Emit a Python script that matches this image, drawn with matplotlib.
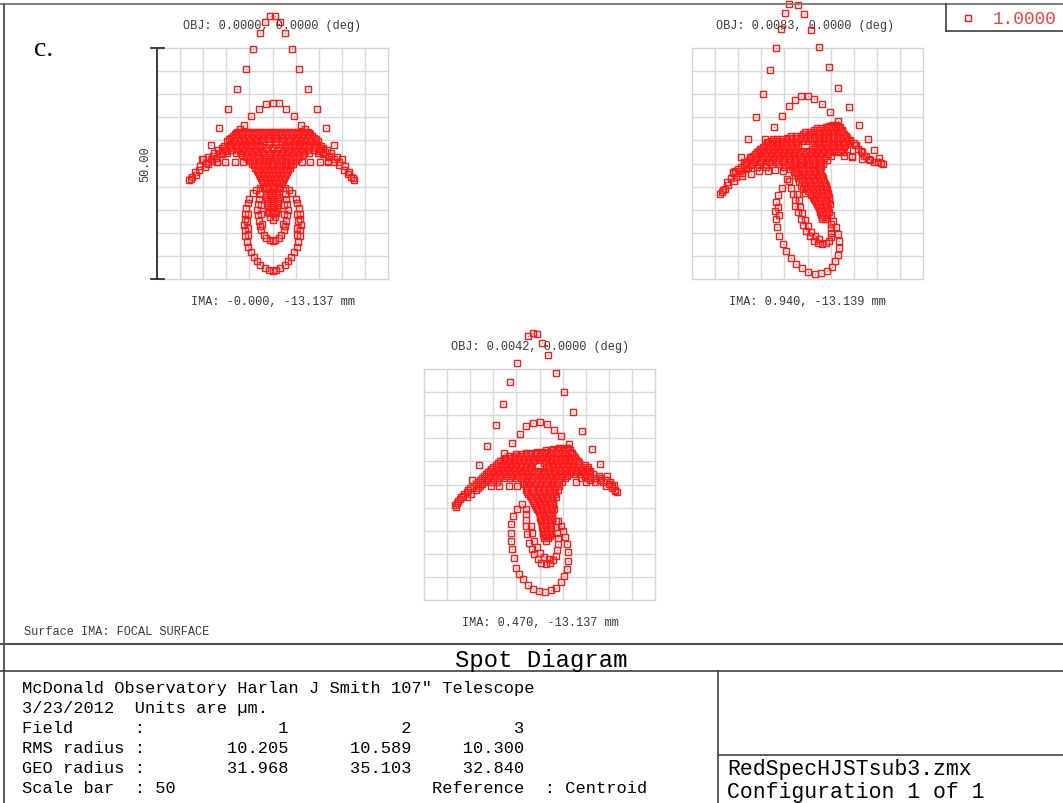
import numpy as np
import matplotlib
matplotlib.use("Agg")
import matplotlib.pyplot as plt
from matplotlib.lines import Line2D

W, H = 1063, 804
MONO = "Liberation Mono"

# ---------------- data (micrometres, relative to centroid) ----------------
field_titles = ["OBJ: 0.0000, 0.0000 (deg)", "OBJ: 0.0083, 0.0000 (deg)", "OBJ: 0.0042, 0.0000 (deg)"]
ima_labels = ["IMA: -0.000, -13.137 mm", "IMA: 0.940, -13.139 mm", "IMA: 0.470, -13.137 mm"]
rms_radius = ["10.205", "10.589", "10.300"]
geo_radius = ["31.968", "35.103", "32.840"]
scale_bar = 50
wavelength_label = "1.0000"

# ---- field 1 ----
p1_arc = [(-0.5, 31.9), (-1.6, 30.6), (-2.8, 28.2), (-4.2, 24.7), (-5.7, 20.5), (-7.7, 16.2),
          (-9.6, 11.7), (-11.5, 7.6), (-13.3, 3.9), (-15.0, 1.0),
          (0.5, 31.9), (1.6, 30.6), (2.8, 28.2), (4.2, 24.7), (5.7, 20.5), (7.7, 16.2),
          (9.6, 11.7), (11.5, 7.6), (13.3, 3.9), (15.0, 1.0)]
p1_inner = [(0.0, 13.2), (-1.5, 12.9), (1.4, 13.0), (-3.0, 11.8), (3.0, 11.8), (-4.6, 10.3),
            (4.6, 10.3), (-6.2, 8.3), (6.1, 8.3), (-7.0, 7.4), (7.0, 7.4)]
p1_wing = [(-18.0, -3.5), (-17.4, -3.0), (-16.5, -2.5), (-15.9, -1.3), (-14.7, -0.8), (-15.3, 1.0),
           (-14.0, -0.1), (-13.1, 0.6), (-12.8, 1.7), (-12.0, 0.3), (-11.5, 2.1), (-10.8, 2.8),
           (-9.9, 3.5), (-9.3, 4.3), (-8.6, 5.0), (-7.9, 6.1), (-16.8, -1.8), (-15.6, -0.6),
           (-14.4, 0.2), (-13.4, 1.0), (-12.2, 1.2), (-11.0, 2.0), (-10.0, 2.6), (-17.7, -3.3),
           (17.7, -3.5), (17.0, -3.0), (16.3, -2.2), (15.4, -1.3), (14.5, -0.4), (13.3, 0.3),
           (12.7, 1.7), (12.0, 0.6), (11.3, 2.5), (10.5, 3.2), (9.8, 3.9), (9.1, 4.6),
           (8.4, 5.3), (7.6, 6.2), (16.6, -1.8), (15.6, -0.6), (14.4, 0.4), (13.4, 1.0),
           (12.2, 1.3), (11.0, 2.0), (10.0, 2.6), (17.4, -3.2)]
p1_fan_rows = {
    6.9: [-7.6, -6.8, -6.0, -5.2, -4.4, -3.6, -2.8, -2.0, -1.2, -0.4, 0.4, 1.2, 2.0, 2.8, 3.6, 4.4, 5.2, 6.0, 6.8, 7.6],
    6.3: [-8.2, -7.2, -6.2, -5.0, -3.8, -2.6, -1.3, 0.0, 1.3, 2.6, 3.8, 5.0, 6.2, 7.2, 8.2],
    5.6: [-9.0, -7.8, -6.6, -5.4, -4.0, -2.7, -1.4, 0.0, 1.4, 2.7, 4.0, 5.4, 6.6, 7.8, 9.0],
    4.8: [-9.8, -8.4, -7.0, -5.8, -4.6, -3.3, -2.0, -0.7, 0.7, 2.0, 3.3, 4.6, 5.8, 7.0, 8.4, 9.8],
    4.2: [-7.4, -6.2, -4.8, -3.4, -2.1, -0.7, 0.7, 2.1, 3.4, 4.8, 6.2, 7.4],
    3.4: [-11.0, -9.4, -8.0, -6.6, -5.4, -4.2, -3.0, -1.5, 0.0, 1.5, 3.0, 4.2, 5.4, 6.6, 8.0, 9.4, 11.0],
    2.6: [-7.0, -5.8, -4.6, -3.4, -2.2, -1.0, 1.0, 2.2, 3.4, 4.6, 5.8, 7.0],
    1.8: [-6.6, -5.4, -4.2, -3.0, -1.8, -0.6, 0.6, 1.8, 3.0, 4.2, 5.4, 6.6],
    1.0: [-5.4, -4.3, -3.2, -2.1, -1.0, 0.0, 1.0, 2.1, 3.2, 4.3, 5.4],
    0.4: [-12.0, -10.2, -8.2, -6.3, 6.3, 8.2, 10.2, 12.0],
    0.0: [-4.4, -3.4, -2.4, -1.4, -0.4, 0.4, 1.4, 2.4, 3.4, 4.4],
    -0.9: [-3.8, -2.8, -1.8, -0.8, 0.2, 1.2, 2.2, 3.2, 3.8],
    -1.8: [-3.2, -2.3, -1.4, -0.5, 0.5, 1.4, 2.3, 3.2],
    -2.7: [-2.7, -1.8, -0.9, 0.0, 0.9, 1.8, 2.7],
    -3.6: [-2.3, -1.5, -0.7, 0.1, 0.8, 1.6, 2.3],
    -4.5: [-2.0, -1.2, -0.4, 0.4, 1.2, 2.0],
    -5.4: [-1.7, -0.9, 0.0, 0.9, 1.7],
    -6.3: [-1.5, -0.7, 0.1, 0.8, 1.5],
    -7.2: [-1.3, -0.4, 0.4, 1.3],
    -8.1: [-1.2, -0.4, 0.4, 1.2],
    -9.0: [-1.1, -0.3, 0.4, 1.1],
    -9.9: [-1.0, 0.0, 1.0],
    -10.8: [-0.8, 0.0, 0.8],
    -11.6: [-0.5, 0.5],
    -12.2: [0.0],
}
p1_fill_rows = {
    6.6: [-7.9, -7.0, -6.4, -5.6, -4.8, -4.0, -3.2, -2.4, -1.6, -0.8, 0.0, 0.8, 1.6, 2.4, 3.2, 4.0, 4.8, 5.6, 6.4, 7.0, 7.9],
    5.9: [-8.6, -7.6, -6.6, -5.6, -4.4, -3.2, -2.0, -0.7, 0.7, 2.0, 3.2, 4.4, 5.6, 6.6, 7.6, 8.6],
    5.2: [-9.4, -8.2, -7.2, -6.2, -5.0, -3.6, -2.2, -0.8, 0.8, 2.2, 3.6, 5.0, 6.2, 7.2, 8.2, 9.4],
    3.8: [-10.4, -9.0, -7.8, -6.8, -5.8, -4.6, -3.6, -2.6, 2.6, 3.6, 4.6, 5.8, 6.8, 7.8, 9.0, 10.4],
    3.0: [-11.8, -10.2, -8.8, -7.6, -6.2, -5.0, -3.8, 3.8, 5.0, 6.2, 7.6, 8.8, 10.2, 11.8],
    2.2: [-12.6, -11.0, -9.8, -8.0, -6.8, -5.6, -4.4, -3.2, -2.0, -0.8, 0.8, 2.0, 3.2, 4.4, 5.6, 6.8, 8.0, 9.8, 11.0, 12.6],
    1.4: [-14.0, -5.8, -4.8, -3.6, -2.6, -1.5, -0.5, 0.5, 1.5, 2.6, 3.6, 4.8, 5.8, 14.0],
    0.5: [-4.8, -3.9, -2.9, -1.9, -0.9, 0.0, 0.9, 1.9, 2.9, 3.9, 4.8],
    -0.4: [-4.1, -3.1, -2.1, -1.1, -0.1, 0.9, 1.9, 2.9, 4.1],
    -1.3: [-3.4, -2.6, -1.7, -0.8, 0.1, 0.9, 1.8, 2.6, 3.4],
    -2.2: [-3.0, -2.1, -1.2, -0.4, 0.4, 1.2, 2.1, 3.0],
    -3.1: [-2.5, -1.6, -0.8, 0.0, 0.8, 1.6, 2.5],
    -4.0: [-2.1, -1.3, -0.5, 0.3, 1.1, 1.9],
    -5.0: [-1.8, -1.0, -0.2, 0.6, 1.4],
    -6.8: [-1.4, -0.6, 0.2, 1.0],
    -8.6: [-1.0, 0.0, 1.0],
    -10.4: [-0.9, -0.2, 0.5],
}
p1_loop_out = [(-2.8, -5.4), (-3.5, -5.8), (-4.3, -6.3), (-5.0, -7.6), (-5.4, -8.6), (-5.7, -9.7),
               (-5.9, -10.9), (-6.0, -12.1), (-6.1, -13.3), (-6.0, -14.5), (-5.9, -15.7), (-5.6, -16.9),
               (-5.2, -18.0), (-4.7, -19.1), (-4.1, -20.2), (-3.4, -21.2), (-2.6, -22.0), (-1.7, -22.7),
               (-0.8, -23.1), (0.0, -23.2), (0.8, -23.1), (1.7, -22.7), (2.6, -22.0), (3.4, -21.2),
               (4.1, -20.2), (4.7, -19.1), (5.2, -18.0), (5.6, -16.9), (5.9, -15.7), (6.0, -14.5),
               (6.1, -13.3), (6.0, -12.1), (5.9, -10.9), (5.7, -9.7), (5.4, -8.6), (5.0, -7.6),
               (4.3, -6.3), (3.5, -5.8), (2.8, -5.4),
               (-5.4, -11.0), (-5.5, -12.5), (-5.4, -14.0), (-5.2, -15.5),
               (5.4, -11.0), (5.5, -12.5), (5.4, -14.0), (5.2, -15.5)]
p1_loop_mid = [(-2.6, -6.5), (-3.0, -7.6), (-3.2, -8.8), (-3.3, -10.0), (-3.2, -11.2), (-3.0, -12.4),
               (-2.8, -13.5), (-2.4, -14.5), (-1.9, -15.4), (-1.3, -16.1), (-0.6, -16.6), (0.0, -16.8),
               (0.6, -16.6), (1.3, -16.1), (1.9, -15.4), (2.4, -14.5), (2.8, -13.5), (3.0, -12.4),
               (3.2, -11.2), (3.3, -10.0), (3.2, -8.8), (3.0, -7.6), (2.6, -6.5),
               (-2.5, -9.0), (-2.5, -11.0), (-2.3, -13.0), (2.5, -9.0), (2.5, -11.0), (2.3, -13.0)]

# ---- field 2 ----
p2_arc = [(-4.1, 34.5), (-2.1, 34.3), (-4.8, 32.5), (-0.8, 32.3), (-5.7, 29.2), (0.8, 29.0),
          (-6.8, 25.0), (2.5, 25.2), (-8.2, 20.2), (4.6, 20.8), (-9.6, 15.1), (6.7, 16.3),
          (-11.1, 10.0), (8.9, 12.2), (-12.8, 5.3), (11.1, 8.4), (-14.4, 1.3), (13.0, 5.3),
          (14.5, 2.9), (15.5, 1.2), (16.0, 0.1), (15.2, 0.3), (16.4, 0.0)]
p2_inner = [(-1.4, 14.6), (0.1, 14.6), (-2.8, 13.8), (1.5, 14.0), (-4.1, 12.4), (3.2, 12.8),
            (-5.5, 10.3), (4.8, 11.1), (-7.2, 7.9), (6.5, 9.2), (-9.1, 5.3)]
p2_wing = [(-18.9, -6.6), (-18.6, -6.1), (-18.3, -5.8), (-17.9, -5.5), (-17.1, -4.7), (-15.9, -3.7),
           (-15.4, -3.0), (-14.2, -2.8), (-16.2, -1.8), (-13.3, -1.0), (-13.8, 0.3), (-12.2, -2.3),
           (-10.6, -1.6), (-8.6, -1.6), (-7.0, -1.4), (-12.4, 1.3), (-10.9, 2.4), (-10.2, 3.2),
           (-8.8, 4.6), (-17.4, -4.0), (-16.6, -3.2), (-14.9, -2.0), (-11.6, 0.4),
           (7.5, 7.1), (8.3, 6.0), (9.3, 5.0), (10.4, 3.9), (11.5, 2.8), (12.2, 1.7),
           (13.3, 1.0), (14.4, 0.4), (9.7, 1.3), (7.8, 1.7), (11.7, 1.0), (10.0, 4.4)]
p2_fan_rows = {
    8.4: [5.2, 6.2],
    8.0: [4.0, 5.0, 6.0, 7.0],
    7.2: [1.5, 2.5, 3.5, 4.5, 5.5, 6.5, 7.4],
    6.4: [-1.0, 0.0, 1.0, 2.0, 3.0, 4.0, 5.0, 6.0, 7.0, 8.0],
    5.6: [-4.5, -3.5, -2.5, -1.5, -0.5, 0.5, 1.5, 2.5, 3.5, 4.5, 5.5, 6.5, 7.5, 8.6],
    4.8: [-8.0, -7.0, -6.0, -5.0, -4.0, -3.0, -2.0, -1.0, 0.0, 1.0, 2.0, 3.0, 4.0, 5.0, 6.0, 7.0, 8.0, 9.3],
    4.0: [-9.2, -8.2, -7.2, -6.2, -5.2, -4.2, -3.0, -2.0, 2.0, 3.0, 4.0, 5.0, 6.0, 7.0, 8.2, 10.2],
    3.2: [-10.0, -9.0, -8.0, -7.0, -6.0, -5.0, -4.0, -2.5, 1.0, 2.5, 3.8, 5.0, 6.2, 7.4, 8.5, 11.0],
    2.4: [-11.0, -10.0, -9.0, -8.0, -6.8, -5.6, -4.4, -3.2, -2.0, -0.8, 0.4, 1.6, 2.8, 4.0, 5.2, 6.4, 7.6, 11.8],
    1.6: [-11.8, -10.6, -9.4, -8.2, -7.0, -5.8, -4.6, -3.4, -2.2, -1.0, 0.2, 1.4, 2.6, 3.8, 5.0, 9.6, 12.6],
    0.8: [-12.6, -11.4, -10.2, -9.0, -7.8, -6.6, -5.4, -4.2, -3.0, -1.8, -0.6, 0.6, 1.8, 3.0, 4.2, 13.6],
    0.0: [-13.4, -12.0, -10.6, -9.0, -7.6, -6.2, -4.8, -3.4, -2.0, -0.6, 0.8, 2.2, 3.4],
    -0.8: [-14.4, -12.8, -11.0, -9.0, -5.0, -3.4, -2.0, -0.6, 0.8, 2.0, 3.0],
    -1.6: [-15.8, -14.6, -5.4, -3.0, -1.8, -0.6, 0.6, 1.8, 2.8],
    -2.4: [-2.6, -1.4, -0.2, 1.0, 2.2, 3.0],
    -3.2: [-2.0, -0.8, 0.4, 1.6, 2.6, 3.4],
    -4.0: [-1.8, -0.4, 0.8, 1.8, 2.8, 3.6],
    -4.8: [-1.4, 0.0, 1.2, 2.2, 3.2, 4.0],
    -5.6: [-1.0, 0.4, 1.5, 2.5, 3.4, 4.2],
    -6.4: [-0.6, 0.8, 1.8, 2.8, 3.6, 4.4],
    -7.2: [1.2, 2.2, 3.0, 3.8, 4.6],
    -8.0: [1.6, 2.5, 3.3, 4.0, 4.7],
    -8.8: [2.0, 2.8, 3.5, 4.2, 4.8],
    -9.6: [2.4, 3.1, 3.8, 4.4],
    -10.4: [2.7, 3.4, 4.0, 4.6],
    -11.2: [3.0, 3.6, 4.2],
    -12.0: [3.2, 3.8],
}
p2_fill_rows = {
    8.2: [4.6, 5.6, 6.6],
    7.6: [2.0, 3.0, 4.0, 5.0, 6.0, 7.0],
    6.8: [-0.5, 0.5, 1.5, 2.5, 3.5, 4.5, 5.5, 6.5, 7.5],
    6.0: [-3.5, -2.5, -1.5, -0.5, 0.5, 1.5, 2.5, 3.5, 4.5, 5.5, 6.5, 7.5, 8.2],
    5.2: [-7.5, -6.5, -5.5, -4.5, -3.5, -2.5, -1.5, -0.5, 0.5, 1.5, 2.5, 3.5, 4.5, 5.5, 6.5, 7.5, 8.6],
    4.4: [-8.6, -7.6, -6.6, -5.6, -4.6, -3.6, -2.5, 2.5, 3.5, 4.5, 5.5, 6.5, 7.6, 8.8],
    3.6: [-9.6, -8.6, -7.6, -6.6, -5.6, -4.6, -3.4, -2.0, 1.6, 3.0, 4.4, 5.6, 6.8, 8.0],
    2.8: [-10.6, -9.6, -8.6, -7.4, -6.2, -5.0, -3.8, -2.6, -1.4, -0.2, 1.0, 2.2, 3.4, 4.6, 5.8, 7.0],
    2.0: [-11.4, -10.2, -9.0, -7.8, -6.6, -5.4, -4.2, -3.0, -1.8, -0.6, 0.6, 1.8, 3.0, 4.4],
    1.2: [-12.2, -11.0, -9.8, -8.6, -7.4, -6.2, -5.0, -3.8, -2.6, -1.4, -0.2, 1.0, 2.4, 3.6],
    0.4: [-13.0, -11.6, -10.0, -8.4, -6.8, -5.2, -3.8, -2.6, -1.2, 0.2, 1.4, 2.8],
    -0.4: [-13.8, -12.2, -4.2, -2.8, -1.4, 0.0, 1.4, 2.6],
    -1.2: [-15.0, -13.4, -3.8, -2.4, -1.2, 0.0, 1.2, 2.4],
    -2.0: [-16.2, -14.2, -2.2, -0.8, 0.4, 1.6, 2.6],
    -2.8: [-1.6, -0.2, 1.0, 2.2, 3.2],
    -3.6: [-1.2, 0.2, 1.4, 2.4, 3.4],
    -4.4: [-0.8, 0.6, 1.8, 2.8, 3.8],
    -5.2: [-0.4, 1.0, 2.0, 3.0, 3.8],
    -6.0: [0.2, 1.3, 2.3, 3.2, 4.0],
    -6.8: [0.8, 1.8, 2.6, 3.4, 4.2],
    -7.6: [1.4, 2.4, 3.2, 4.0],
    -8.4: [1.8, 2.7, 3.5, 4.3],
    -9.2: [2.2, 3.0, 3.8],
    -10.0: [2.6, 3.4, 4.2],
    -10.8: [2.9, 3.6, 4.3],
    -11.6: [3.2, 3.9],
}
p2_loop_out = [(-4.4, -3.4), (-5.5, -5.2), (-6.3, -6.8), (-6.9, -8.4), (-7.0, -10.2), (-6.8, -12.0),
               (-6.5, -13.8), (-6.1, -15.6), (-5.4, -17.4), (-4.6, -19.0), (-3.6, -20.4), (-2.5, -21.7),
               (-1.2, -22.7), (0.2, -23.5), (1.6, -24.0), (3.0, -23.8), (4.2, -23.2), (5.2, -22.3),
               (6.0, -21.1), (6.6, -19.7), (6.9, -18.2), (6.9, -16.7), (6.6, -15.2), (6.1, -13.8),
               (5.5, -12.5), (5.0, -11.2), (-3.0, -1.9), (-6.4, -9.4), (-6.2, -11.1)]
p2_loop_mid = [(-4.1, -3.7), (-3.6, -5.2), (-3.1, -6.6), (-2.8, -7.9), (-2.6, -9.2), (-2.1, -10.6),
               (-1.5, -12.1), (-0.9, -13.4), (-0.3, -14.6), (0.5, -15.8), (1.4, -16.8), (2.3, -17.3),
               (3.2, -17.5), (4.0, -17.3), (4.6, -16.8), (5.0, -15.9), (5.1, -15.0), (5.1, -14.0),
               (5.0, -13.2), (-2.2, -6.6), (-1.9, -8.0), (-1.6, -9.4), (-1.1, -10.8), (-0.5, -12.2),
               (0.1, -13.5), (0.8, -14.8), (1.6, -15.8), (2.5, -16.4)]

# ---- field 3 ----
p3_arc = [(-2.5, 32.1), (-1.4, 32.7), (-0.6, 32.5), (0.6, 30.7), (1.8, 28.0), (-4.8, 26.2),
          (3.5, 24.2), (-6.3, 22.1), (5.2, 20.1), (-7.8, 17.5), (7.2, 15.7), (-9.5, 12.8),
          (9.2, 11.5), (-11.3, 8.3), (11.3, 7.7), (-13.1, 4.3), (13.2, 4.4), (-14.7, 0.9),
          (14.7, 1.9), (16.2, 0.0), (16.8, -1.7), (16.4, -1.4)]
p3_inner = [(-1.4, 13.4), (0.1, 13.5), (-2.9, 12.6), (1.6, 13.0), (-4.3, 11.0), (3.1, 11.9),
            (-5.9, 9.0), (4.7, 10.5), (-7.6, 6.8), (6.4, 8.7)]
p3_fan_rows = {
    8.0: [4.2, 5.2, 6.2],
    7.4: [1.5, 2.5, 3.5, 4.5, 5.5, 6.6],
    6.8: [-3.0, -2.0, -1.0, 0.0, 1.0, 2.0, 3.0, 4.0, 5.0, 6.0, 7.0],
    6.2: [-6.6, -5.6, -4.6, -3.6, -2.6, -1.6, -0.6, 0.4, 1.4, 2.4, 3.4, 4.4, 5.4, 6.4, 7.4],
    5.4: [-8.0, -7.0, -6.0, -5.0, -4.0, -3.0, -2.0, -1.0, 0.0, 1.0, 2.0, 3.0, 4.0, 5.0, 6.0, 7.0, 8.0],
    4.6: [-9.0, -8.0, -7.0, -6.0, -5.0, -4.0, -3.0, -2.0, 1.0, 2.0, 3.0, 4.0, 5.0, 6.0, 7.0, 8.5],
    3.8: [-10.0, -8.8, -7.6, -6.4, -5.2, -4.0, -2.8, -1.6, 1.5, 2.6, 3.7, 4.8, 5.9, 7.0, 8.2, 9.4, 10.4],
    3.0: [-10.8, -9.6, -8.4, -7.2, -6.0, -4.8, -3.6, -2.4, -1.2, 0.0, 1.2, 2.4, 3.6, 4.8, 6.0, 7.2, 8.4, 9.6, 11.0],
    2.2: [-11.6, -10.4, -9.2, -8.0, -6.8, -5.6, -4.4, -3.2, -2.0, -0.8, 0.4, 1.6, 2.8, 4.0, 5.2, 6.4, 7.6, 8.8, 10.0, 11.6],
    1.4: [-12.4, -11.2, -10.0, -8.8, -7.6, -6.4, -5.2, -4.0, -2.8, -1.6, -0.4, 0.8, 2.0, 3.2, 4.4, 5.6, 9.0, 10.4, 12.2, 13.4],
    0.6: [-13.4, -12.0, -10.6, -9.2, -3.6, -2.4, -1.2, 0.0, 1.2, 2.4, 3.6, 4.8, 8.0, 10.0, 12.0, 13.8, 15.2],
    -0.4: [-14.4, -12.8, -10.5, -8.7, -6.7, -4.8, -3.0, -1.8, -0.6, 0.6, 1.8, 3.0, 4.2, 14.4, 15.8],
    -1.2: [-15.4, -13.8, -3.0, -1.8, -0.6, 0.6, 1.8, 3.0, 4.0, 16.4],
    -2.0: [-16.4, -14.8, -2.4, -1.2, 0.0, 1.2, 2.4, 3.4],
    -2.8: [-17.0, -15.6, -1.8, -0.6, 0.6, 1.8, 2.8, 3.6],
    -3.6: [-17.6, -1.4, -0.2, 1.0, 2.0, 3.0],
    -4.4: [-18.3, -1.0, 0.2, 1.2, 2.2, 3.0],
    -4.9: [-18.1],
    -5.2: [-0.6, 0.5, 1.5, 2.5, 3.2],
    -6.0: [-0.2, 0.8, 1.8, 2.7],
    -6.8: [0.1, 1.0, 2.0, 2.8],
    -7.6: [0.3, 1.2, 2.1, 2.8],
    -8.4: [0.5, 1.4, 2.3],
    -9.2: [0.6, 1.5, 2.4],
    -10.0: [0.7, 1.6, 2.4],
    -10.8: [0.8, 1.7, 2.4],
    -11.6: [1.0, 1.8],
    -12.2: [1.4],
}
p3_fill_rows = {
    7.7: [3.0, 4.0, 5.0, 6.0],
    7.1: [-0.5, 0.5, 1.5, 2.5, 3.5, 4.5, 5.5, 6.5],
    6.5: [-5.0, -4.0, -3.0, -2.0, -1.0, 0.0, 1.0, 2.0, 3.0, 4.0, 5.0, 6.0, 7.0],
    5.8: [-7.4, -6.4, -5.4, -4.4, -3.4, -2.4, -1.4, -0.4, 0.6, 1.6, 2.6, 3.6, 4.6, 5.6, 6.6, 7.6],
    5.0: [-8.5, -7.5, -6.5, -5.5, -4.5, -3.5, -2.5, -1.5, 1.5, 2.5, 3.5, 4.5, 5.5, 6.5, 7.5, 8.4],
    4.2: [-9.5, -8.4, -7.3, -6.2, -5.1, -4.0, -2.9, -1.8, 1.8, 2.9, 4.0, 5.1, 6.2, 7.3, 8.6, 9.8],
    3.4: [-10.4, -9.2, -8.0, -6.8, -5.6, -4.4, -3.2, -2.0, 2.0, 3.2, 4.4, 5.6, 6.8, 8.0, 9.0, 10.2],
    2.6: [-11.2, -10.0, -8.8, -7.6, -6.4, -5.2, -4.0, -2.8, -1.6, -0.4, 0.8, 2.0, 3.2, 4.4, 5.6, 6.8, 8.0, 9.4, 10.8],
    1.8: [-12.0, -10.8, -9.6, -8.4, -7.2, -6.0, -4.8, -3.6, -2.4, -1.2, 0.0, 1.2, 2.4, 3.6, 4.8, 6.0, 9.8, 11.0, 12.8],
    1.0: [-12.8, -11.4, -10.0, -3.0, -1.8, -0.6, 0.6, 1.8, 3.0, 4.2, 11.0, 13.0, 14.4],
    0.2: [-13.8, -12.4, -3.4, -2.2, -1.0, 0.2, 1.4, 2.6, 3.8, 15.0],
    -0.8: [-15.0, -13.4, -2.6, -1.4, -0.2, 1.0, 2.2, 3.4, 15.6],
    -1.6: [-15.8, -2.6, -1.4, -0.2, 1.0, 2.2, 3.2],
    -2.4: [-16.6, -2.0, -0.8, 0.4, 1.6, 2.6],
    -3.2: [-17.2, -1.6, -0.4, 0.8, 1.8, 2.8],
    -4.0: [-17.9, -1.2, 0.0, 1.2, 2.2, 3.0],
    -4.8: [-0.8, 0.3, 1.4, 2.4],
    -5.6: [-0.4, 0.6, 1.6, 2.6],
    -6.4: [0.0, 1.0, 2.0, 2.8],
    -7.2: [0.2, 1.1, 2.0, 2.7],
    -8.0: [0.4, 1.3, 2.2],
    -8.8: [0.5, 1.4, 2.3],
    -9.6: [0.7, 1.5, 2.3],
    -10.4: [0.8, 1.6, 2.4],
    -11.2: [0.9, 1.7, 2.3],
}
p3_loop_out = [(-3.8, -4.2), (-4.8, -5.3), (-5.8, -6.8), (-6.1, -8.6), (-6.2, -10.4), (-6.1, -12.2),
               (-6.0, -14.0), (-5.6, -16.0), (-5.1, -18.0), (-4.4, -19.3), (-3.6, -20.5), (-2.5, -21.7),
               (-1.4, -22.7), (-0.2, -23.1), (1.1, -23.3), (2.4, -22.9), (3.6, -22.3), (4.6, -21.1),
               (5.4, -19.8), (5.9, -18.2), (6.2, -16.6), (6.2, -14.7), (5.9, -12.9), (5.5, -11.4),
               (5.1, -10.0), (4.6, -8.9), (4.0, -7.9)]
p3_loop_mid = [(-2.9, -5.2), (-2.9, -6.4), (-2.9, -7.7), (-2.9, -9.0), (-2.6, -10.8), (-2.2, -12.6),
               (-1.7, -13.9), (-1.1, -15.1), (-0.4, -16.1), (0.4, -16.9), (1.3, -17.1), (2.2, -16.9),
               (3.0, -16.3), (3.5, -15.5), (3.8, -14.2), (4.0, -12.9), (3.9, -11.6), (3.8, -10.4),
               (3.6, -9.1), (3.5, -7.9), (-1.8, -9.0), (-1.6, -10.6), (-1.2, -12.2), (-0.6, -13.6),
               (0.2, -14.9), (1.0, -15.8), (2.0, -16.2)]

# ---------------- drawing helpers ----------------
def fx(x):
    return x / W


def fy(y):
    return 1 - y / H


def hline(fig, y, x0, x1, color="#404040", lw=1.5):
    fig.add_artist(Line2D([fx(x0), fx(x1)], [fy(y), fy(y)], color=color, lw=lw))


def vline(fig, x, y0, y1, color="#404040", lw=1.5):
    fig.add_artist(Line2D([fx(x), fx(x)], [fy(y0), fy(y1)], color=color, lw=lw))


def rows_to_xy(rows):
    xs, ys = [], []
    for y, row in rows.items():
        for x in row:
            xs.append(x)
            ys.append(y)
    return xs, ys


def plot_pts(ax, xs, ys):
    ax.plot(xs, ys, ls="none", marker="s", ms=3.9, mfc="none", mec="#ff1a1a",
            mew=1.0, clip_on=False, zorder=3)
    ax.plot(xs, ys, ls="none", marker="s", ms=0.9, mfc="#ff6060", mec="none",
            clip_on=False, zorder=3)


def make_panel(fig, left, top, groups, row_sets):
    ax = fig.add_axes([fx(left), fy(top + 231), 231 / W, 231 / H])
    ax.set_xlim(-25, 25)
    ax.set_ylim(-25, 25)
    for v in range(-20, 21, 5):
        ax.axvline(v, color="#d9d9d9", lw=1.0, zorder=0)
        ax.axhline(v, color="#d9d9d9", lw=1.0, zorder=0)
    for s in ax.spines.values():
        s.set_color("#d4d4d4")
        s.set_linewidth(1.0)
    ax.set_xticks([])
    ax.set_yticks([])
    ax.patch.set_alpha(0)
    for g in groups:
        arr = np.array(g)
        plot_pts(ax, arr[:, 0], arr[:, 1])
    for rows in row_sets:
        xs, ys = rows_to_xy(rows)
        plot_pts(ax, xs, ys)
    return ax


fig = plt.figure(figsize=(W / 100, H / 100), dpi=100)
fig.patch.set_facecolor("white")

# frame lines
hline(fig, 5, 0, W, color="#808080", lw=1.5)
vline(fig, 4, 5, H, color="#606060", lw=1.5)
vline(fig, 946, 5, 32, color="#404040", lw=1.2)
hline(fig, 32, 946, W, color="#404040", lw=1.2)
hline(fig, 645, 0, W, color="#505050", lw=1.5)
hline(fig, 672, 0, W, color="#404040", lw=1.2)
vline(fig, 718, 672, H, color="#404040", lw=1.2)
hline(fig, 756, 718, W, color="#404040", lw=1.2)

# panels
make_panel(fig, 157, 49, [p1_arc, p1_inner, p1_wing, p1_loop_out, p1_loop_mid], [p1_fan_rows, p1_fill_rows])
make_panel(fig, 692, 49, [p2_arc, p2_inner, p2_wing, p2_loop_out, p2_loop_mid], [p2_fan_rows, p2_fill_rows])
make_panel(fig, 424, 370, [p3_arc, p3_inner, p3_loop_out, p3_loop_mid], [p3_fan_rows, p3_fill_rows])

tc = "#3a3a3a"
fs_small = 8.6
fig.text(fx(272), fy(26), field_titles[0], ha="center", va="center", family=MONO, fontsize=fs_small, color=tc)
fig.text(fx(805), fy(26), field_titles[1], ha="center", va="center", family=MONO, fontsize=fs_small, color=tc)
fig.text(fx(540), fy(347), field_titles[2], ha="center", va="center", family=MONO, fontsize=fs_small, color=tc)
fig.text(fx(273), fy(302), ima_labels[0], ha="center", va="center", family=MONO, fontsize=fs_small, color=tc)
fig.text(fx(807), fy(302), ima_labels[1], ha="center", va="center", family=MONO, fontsize=fs_small, color=tc)
fig.text(fx(540), fy(623), ima_labels[2], ha="center", va="center", family=MONO, fontsize=fs_small, color=tc)
fig.text(fx(24), fy(632), "Surface IMA: FOCAL SURFACE", ha="left", va="center", family=MONO,
         fontsize=fs_small, color=tc)

# scale bar
vline(fig, 157, 49, 280, color="#303030", lw=1.3)
hline(fig, 49, 151, 164, color="#303030", lw=1.3)
hline(fig, 280, 151, 164, color="#303030", lw=1.3)
fig.text(fx(145), fy(164), f"{scale_bar:.2f}", rotation=90, ha="center", va="center", family=MONO,
         fontsize=fs_small, color=tc)

# panel letter
fig.text(fx(34), fy(50), "c.", ha="left", va="center", family="Liberation Serif", fontsize=20, color="black")

# legend
fig.add_artist(Line2D([fx(968)], [fy(19)], ls="none", marker="s", ms=3.9, mfc="none", mec="#ff1a1a", mew=1.0))
fig.text(fx(993), fy(19), wavelength_label, ha="left", va="center", family=MONO, fontsize=12.8, color="#ff3b3b")

# title bar
fig.text(fx(541), fy(660), "Spot Diagram", ha="center", va="center", family=MONO, fontsize=17.2, color="black")

# info block
fs_info = 12.25
lines = [
    'McDonald Observatory Harlan J Smith 107" Telescope',
    "3/23/2012  Units are \u00b5m.",
    "Field      :" + "1".rjust(14) + "2".rjust(12) + "3".rjust(11),
    "RMS radius :" + rms_radius[0].rjust(14) + rms_radius[1].rjust(12) + rms_radius[2].rjust(11),
    "GEO radius :" + geo_radius[0].rjust(14) + geo_radius[1].rjust(12) + geo_radius[2].rjust(11),
    f"Scale bar  : {scale_bar}".ljust(40) + "Reference  : Centroid",
]
ys_info = [689, 709, 729, 749, 769, 789]
for s, y in zip(lines, ys_info):
    fig.text(fx(22), fy(y), s, ha="left", va="center", family=MONO, fontsize=fs_info, color="black")

fig.text(fx(727), fy(770), "RedSpecHJSTsub3.zmx", ha="left", va="center", family=MONO, fontsize=15.5, color="black")
fig.text(fx(727), fy(793), "Configuration 1 of 1", ha="left", va="center", family=MONO, fontsize=15.5, color="black")

fig.savefig("out.png", dpi=100, facecolor="white")
